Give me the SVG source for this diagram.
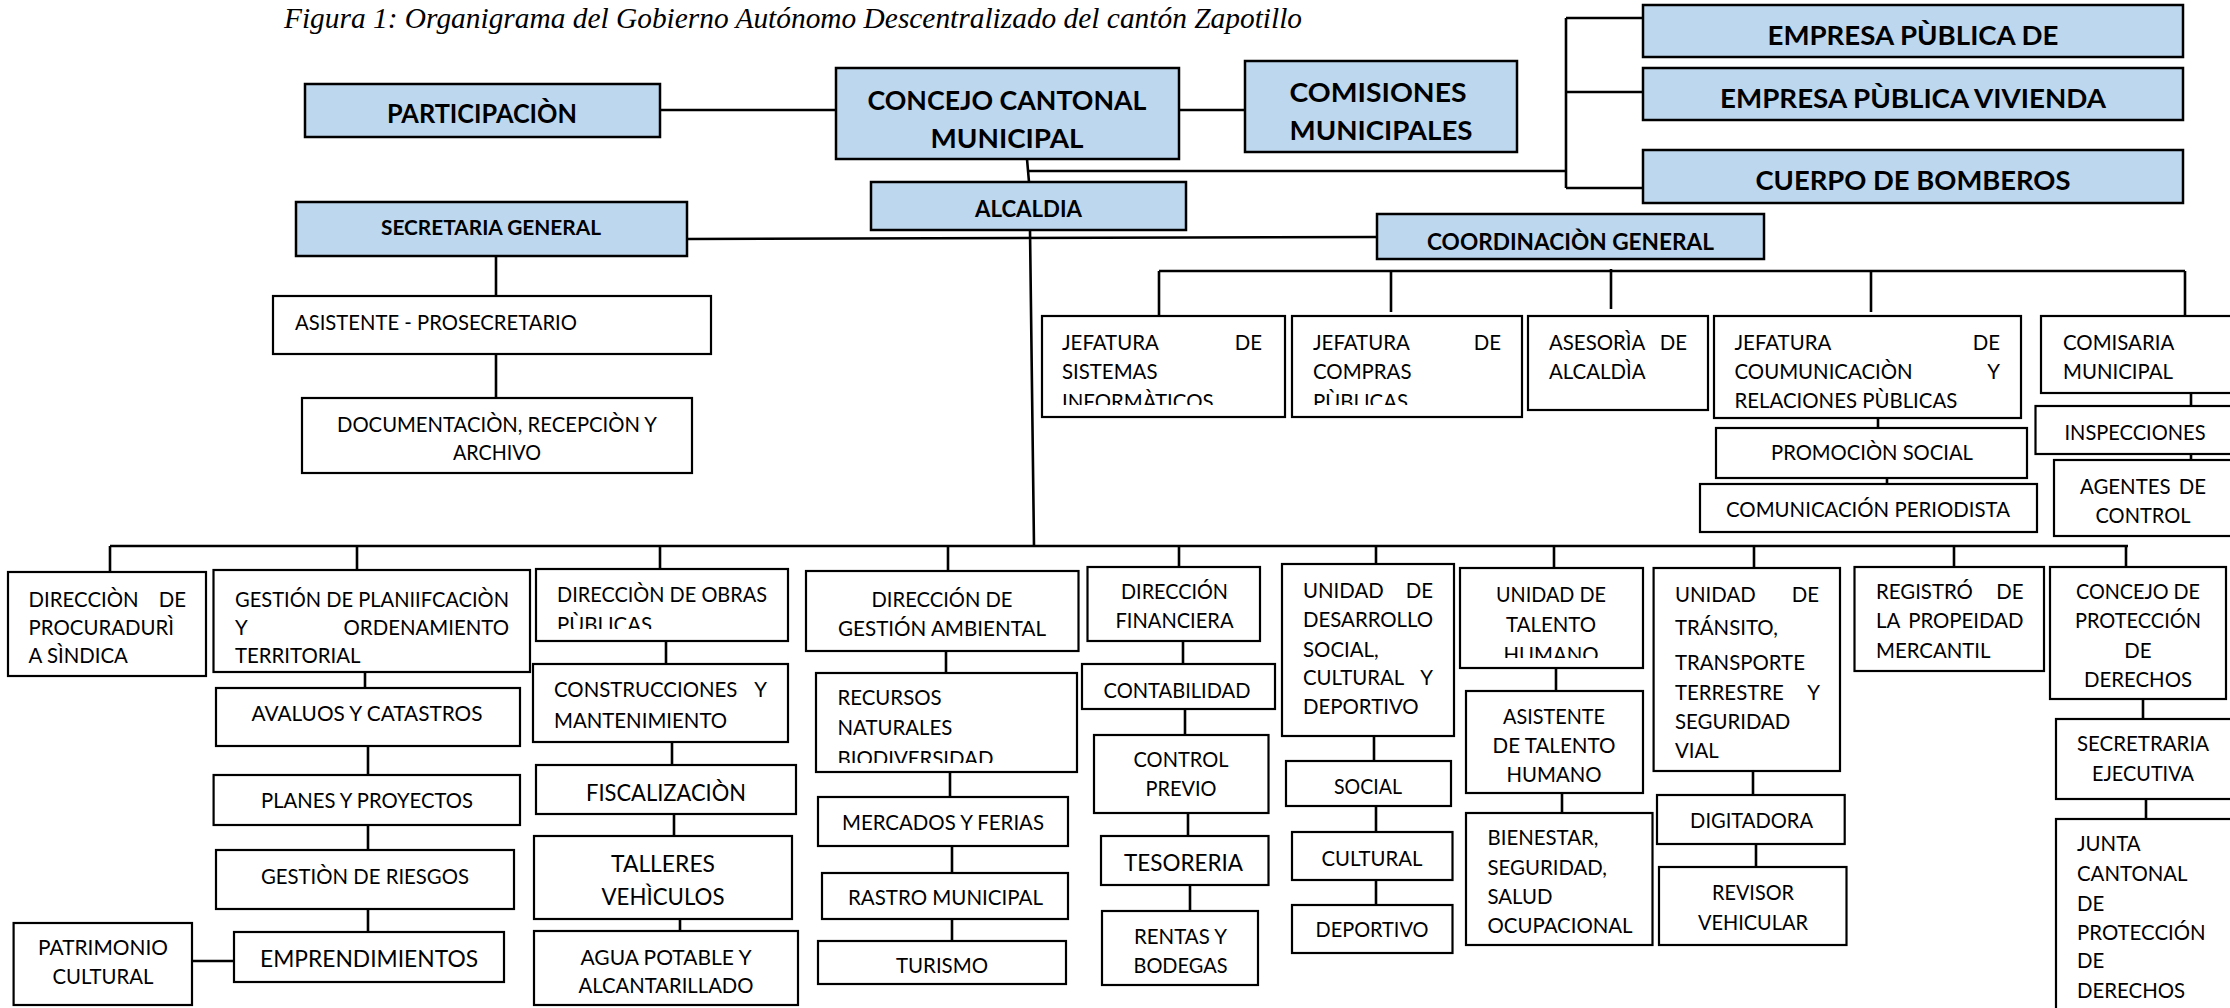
<svg xmlns="http://www.w3.org/2000/svg" width="2230" height="1008" viewBox="0 0 2230 1008">
<style>
.bx{fill:#BDD7EE;stroke:#000;stroke-width:2.5}
.wx{fill:#fff;stroke:#000;stroke-width:2.2}
text{font-family:Lato,"Liberation Sans",sans-serif;font-size:20.4px;fill:#000}
.lg{font-size:22.6px}
.h1{font-weight:bold;font-size:27px}
.h2{font-weight:bold;font-size:22.8px}
.h3{font-weight:bold;font-size:21px}
.c{text-anchor:middle}
.e{text-anchor:end}
.cn{fill:none;stroke:#000;stroke-width:2.6}
.title{font-family:"Liberation Serif",serif;font-style:italic;font-size:29.4px}
</style>
<defs>
<clipPath id="cpJS"><rect x="1042" y="316" width="243" height="89"/></clipPath>
<clipPath id="cpJC"><rect x="1292" y="316" width="230" height="89"/></clipPath>
<clipPath id="cpOB"><rect x="536" y="569" width="252" height="60"/></clipPath>
<clipPath id="cpTH"><rect x="1460" y="568" width="183" height="90"/></clipPath>
<clipPath id="cpRN"><rect x="816" y="673" width="261" height="90"/></clipPath>
</defs>
<rect width="2230" height="1008" fill="#fff"/>
<text class="title" x="284" y="28" textLength="1018" lengthAdjust="spacingAndGlyphs">Figura 1: Organigrama del Gobierno Autónomo Descentralizado del cantón Zapotillo</text>

<g id="connectors">
<path class="cn" d="M660,110 H836 M1179,110 H1245 M1027,159 L1029,182 M1028,171 H1566 M1566,18 V188 M1566,18 H1643 M1566,92 H1643 M1566,188 H1643"/>
<path class="cn" d="M687,239 L1377,237 M1030,230 L1034,546"/>
<path class="cn" d="M1159,271 H2185 M1159,271 V316 M1391,271 V312 M1611,269 V309 M1871,271 V312 M2185,271 V316"/>
<path class="cn" d="M1878,418 V429 M1887,478 V488 M2191,393 V410 M2191,454 V463"/>
<path class="cn" d="M496,256 V296 M496,354 V398"/>
<path class="cn" d="M110,546 H2128 M110,546 V572 M357,546 V570 M660,546 V569 M948,546 V571 M1179,546 V567 M1376,546 V564 M1554,546 V568 M1754,546 V568 M1954,546 V567 M2126,546 V567"/>
<path class="cn" d="M365,672 V688 M368,746 V775 M368,825 V850 M368,909 V932 M192,961 H234"/>
<path class="cn" d="M666,641 V664 M672,742 V765 M674,814 V836 M680,919 V931"/>
<path class="cn" d="M946,651 V673 M950,772 V797 M952,846 V873 M952,914 V941"/>
<path class="cn" d="M1183,641 V664 M1185,709 V735 M1188,813 V836 M1190,885 V911"/>
<path class="cn" d="M1374,736 V761 M1376,806 V832 M1376,880 V905"/>
<path class="cn" d="M1556,668 V691 M1562,793 V813"/>
<path class="cn" d="M1753,771 V795 M1756,844 V867"/>
<path class="cn" d="M2143,699 V719 M2146,799 V819"/>
</g>

<g id="n-participacion"><rect class="bx" x="305" y="84" width="355" height="53"/><text class="h1 c" x="482" y="123" textLength="190" lengthAdjust="spacingAndGlyphs">PARTICIPACIÒN</text></g>
<g id="n-concejo"><rect class="bx" x="836" y="68" width="343" height="91"/><text class="h1 c" x="1007" y="110" textLength="279" lengthAdjust="spacingAndGlyphs">CONCEJO CANTONAL</text><text class="h1 c" x="1007" y="148" textLength="153" lengthAdjust="spacingAndGlyphs">MUNICIPAL</text></g>
<g id="n-comisiones"><rect class="bx" x="1245" y="61" width="272" height="91"/><text class="h1 c" x="1378" y="102" textLength="177" lengthAdjust="spacingAndGlyphs">COMISIONES</text><text class="h1 c" x="1381" y="140" textLength="183" lengthAdjust="spacingAndGlyphs">MUNICIPALES</text></g>
<g id="n-empresa1"><rect class="bx" x="1643" y="5" width="540" height="52"/><text class="h1 c" x="1913" y="45" textLength="291" lengthAdjust="spacingAndGlyphs">EMPRESA PÙBLICA DE</text></g>
<g id="n-empresa2"><rect class="bx" x="1643" y="68" width="540" height="52"/><text class="h1 c" x="1913" y="108" textLength="386" lengthAdjust="spacingAndGlyphs">EMPRESA PÙBLICA VIVIENDA</text></g>
<g id="n-bomberos"><rect class="bx" x="1643" y="150" width="540" height="53"/><text class="h1 c" x="1913" y="190" textLength="315" lengthAdjust="spacingAndGlyphs">CUERPO DE BOMBEROS</text></g>
<g id="n-alcaldia"><rect class="bx" x="871" y="182" width="315" height="48"/><text class="h2 c" x="1028.5" y="217" textLength="107" lengthAdjust="spacingAndGlyphs">ALCALDIA</text></g>
<g id="n-secretaria"><rect class="bx" x="296" y="202" width="391" height="54"/><text class="h3 c" x="491" y="235" textLength="220" lengthAdjust="spacingAndGlyphs">SECRETARIA GENERAL</text></g>
<g id="n-coordinacion"><rect class="bx" x="1377" y="214" width="387" height="45"/><text class="h2 c" x="1570.5" y="250" textLength="287" lengthAdjust="spacingAndGlyphs">COORDINACIÒN GENERAL</text></g>

<g id="n-asistente"><rect class="wx" x="273" y="296" width="438" height="58"/><text x="295" y="330" textLength="282" lengthAdjust="spacingAndGlyphs">ASISTENTE - PROSECRETARIO</text></g>
<g id="n-documentacion"><rect class="wx" x="302" y="398" width="390" height="75"/><text class="c" x="497" y="432" textLength="320" lengthAdjust="spacingAndGlyphs">DOCUMENTACIÒN, RECEPCIÒN Y</text><text class="c" x="497" y="460" textLength="88" lengthAdjust="spacingAndGlyphs">ARCHIVO</text></g>

<g id="n-jsistemas"><rect class="wx" x="1042" y="316" width="243" height="101"/><g clip-path="url(#cpJS)"><text x="1062" y="350">JEFATURA</text><text class="e" x="1262" y="350">DE</text><text x="1062" y="379">SISTEMAS</text><text x="1062" y="409">INFORMÀTICOS</text></g></g>
<g id="n-jcompras"><rect class="wx" x="1292" y="316" width="230" height="101"/><g clip-path="url(#cpJC)"><text x="1313" y="350">JEFATURA</text><text class="e" x="1501" y="350">DE</text><text x="1313" y="379">COMPRAS</text><text x="1313" y="409">PÙBLICAS</text></g></g>
<g id="n-asesoria"><rect class="wx" x="1528" y="316" width="180" height="94"/><text x="1549" y="350">ASESORÌA</text><text class="e" x="1687" y="350">DE</text><text x="1549" y="379">ALCALDÌA</text></g>
<g id="n-jcomunicacion"><rect class="wx" x="1714" y="316" width="307" height="102"/><text x="1734.5" y="350">JEFATURA</text><text class="e" x="2000" y="350">DE</text><text x="1734.5" y="379">COUMUNICACIÒN</text><text class="e" x="2000" y="379">Y</text><text x="1734.5" y="408">RELACIONES PÙBLICAS</text></g>
<g id="n-comisaria"><rect class="wx" x="2041" y="316" width="200" height="77"/><text x="2063" y="350">COMISARIA</text><text x="2063" y="379">MUNICIPAL</text></g>
<g id="n-promocion"><rect class="wx" x="1716" y="428" width="311" height="50"/><text class="c" x="1872" y="460" textLength="202" lengthAdjust="spacingAndGlyphs">PROMOCIÒN SOCIAL</text></g>
<g id="n-comperiodista"><rect class="wx" x="1700" y="484" width="337" height="48"/><text class="c" x="1868" y="517" textLength="284" lengthAdjust="spacingAndGlyphs">COMUNICACIÓN PERIODISTA</text></g>
<g id="n-inspecciones"><rect class="wx" x="2035.5" y="406" width="205" height="48"/><text class="c" x="2135" y="440" textLength="141" lengthAdjust="spacingAndGlyphs">INSPECCIONES</text></g>
<g id="n-agentes"><rect class="wx" x="2054" y="460" width="190" height="76"/><text x="2080" y="494">AGENTES</text><text class="e" x="2206" y="494">DE</text><text class="c" x="2143" y="523" textLength="95" lengthAdjust="spacingAndGlyphs">CONTROL</text></g>

<g id="n-procuraduria"><rect class="wx" x="8" y="572" width="198" height="104"/><text x="28.6" y="607">DIRECCIÒN</text><text class="e" x="186" y="607">DE</text><text x="28.6" y="635">PROCURADURÌ</text><text x="28.6" y="663">A SÌNDICA</text></g>
<g id="n-planificacion"><rect class="wx" x="213.5" y="570" width="316.5" height="102"/><text x="235" y="607" textLength="274" lengthAdjust="spacingAndGlyphs">GESTIÓN DE PLANIIFCACIÒN</text><text x="235" y="635">Y</text><text class="e" x="509" y="635">ORDENAMIENTO</text><text x="235" y="663">TERRITORIAL</text></g>
<g id="n-obras"><rect class="wx" x="536" y="569" width="252" height="72"/><g clip-path="url(#cpOB)"><text x="557" y="602" textLength="210" lengthAdjust="spacingAndGlyphs">DIRECCIÒN DE OBRAS</text><text x="557" y="632">PÙBLICAS</text></g></g>
<g id="n-ambiental"><rect class="wx" x="806" y="571" width="272.5" height="80"/><text class="c" x="942" y="607" textLength="141" lengthAdjust="spacingAndGlyphs">DIRECCIÓN DE</text><text class="c" x="942" y="636" textLength="208" lengthAdjust="spacingAndGlyphs">GESTIÓN AMBIENTAL</text></g>
<g id="n-financiera"><rect class="wx" x="1087.5" y="567" width="172.5" height="74"/><text class="c" x="1174.5" y="599" textLength="107" lengthAdjust="spacingAndGlyphs">DIRECCIÓN</text><text class="c" x="1174.5" y="628" textLength="118" lengthAdjust="spacingAndGlyphs">FINANCIERA</text></g>
<g id="n-desarrollo"><rect class="wx" x="1282" y="564" width="172" height="172"/><text x="1303" y="598">UNIDAD</text><text class="e" x="1433" y="598">DE</text><text x="1303" y="627">DESARROLLO</text><text x="1303" y="657">SOCIAL,</text><text x="1303" y="685">CULTURAL</text><text class="e" x="1433" y="685">Y</text><text x="1303" y="714">DEPORTIVO</text></g>
<g id="n-talento"><rect class="wx" x="1460" y="568" width="183" height="100"/><g clip-path="url(#cpTH)"><text class="c" x="1551" y="602" textLength="110" lengthAdjust="spacingAndGlyphs">UNIDAD DE</text><text class="c" x="1551" y="632">TALENTO</text><text class="c" x="1551" y="662">HUMANO</text></g></g>
<g id="n-transito"><rect class="wx" x="1653.6" y="568" width="186.4" height="203"/><text x="1675" y="602">UNIDAD</text><text class="e" x="1819" y="602">DE</text><text x="1675" y="635">TRÁNSITO,</text><text x="1675" y="670">TRANSPORTE</text><text x="1675" y="700">TERRESTRE</text><text class="e" x="1820" y="700">Y</text><text x="1675" y="729">SEGURIDAD</text><text x="1675" y="758">VIAL</text></g>
<g id="n-registro"><rect class="wx" x="1854.5" y="567" width="189.5" height="104"/><text x="1876" y="599">REGISTRÓ</text><text class="e" x="2023.5" y="599">DE</text><text x="1876" y="628">LA</text><text class="e" x="2023.5" y="628">PROPEIDAD</text><text x="1876" y="658">MERCANTIL</text></g>
<g id="n-cproteccion"><rect class="wx" x="2050" y="567" width="176" height="132"/><text class="c" x="2138" y="599" textLength="124" lengthAdjust="spacingAndGlyphs">CONCEJO DE</text><text class="c" x="2138" y="628" textLength="126" lengthAdjust="spacingAndGlyphs">PROTECCIÓN</text><text class="c" x="2138" y="658">DE</text><text class="c" x="2138" y="687">DERECHOS</text></g>

<g id="n-avaluos"><rect class="wx" x="216" y="688" width="304" height="58"/><text class="c" x="367" y="721" textLength="231" lengthAdjust="spacingAndGlyphs">AVALUOS Y CATASTROS</text></g>
<g id="n-planes"><rect class="wx" x="213.6" y="775" width="306.4" height="50"/><text class="c" x="367" y="808" textLength="212" lengthAdjust="spacingAndGlyphs">PLANES Y PROYECTOS</text></g>
<g id="n-riesgos"><rect class="wx" x="216" y="850" width="298" height="59"/><text class="c" x="365" y="884" textLength="208" lengthAdjust="spacingAndGlyphs">GESTIÒN DE RIESGOS</text></g>
<g id="n-emprendimientos"><rect class="wx" x="234" y="932" width="270" height="50"/><text class="c lg" x="369" y="967" textLength="218" lengthAdjust="spacingAndGlyphs">EMPRENDIMIENTOS</text></g>
<g id="n-patrimonio"><rect class="wx" x="13.6" y="923" width="178.4" height="82"/><text class="c" x="103" y="955" textLength="130" lengthAdjust="spacingAndGlyphs">PATRIMONIO</text><text class="c" x="103" y="984" textLength="101" lengthAdjust="spacingAndGlyphs">CULTURAL</text></g>

<g id="n-construcciones"><rect class="wx" x="533" y="664" width="255" height="78"/><text x="554" y="697">CONSTRUCCIONES</text><text class="e" x="767" y="697">Y</text><text x="554" y="728">MANTENIMIENTO</text></g>
<g id="n-fiscalizacion"><rect class="wx" x="536" y="765" width="260" height="49"/><text class="c lg" x="666" y="801" textLength="160" lengthAdjust="spacingAndGlyphs">FISCALIZACIÒN</text></g>
<g id="n-talleres"><rect class="wx" x="534" y="836" width="258" height="83"/><text class="c lg" x="663" y="872" textLength="104" lengthAdjust="spacingAndGlyphs">TALLERES</text><text class="c lg" x="663" y="905" textLength="123" lengthAdjust="spacingAndGlyphs">VEHÌCULOS</text></g>
<g id="n-agua"><rect class="wx" x="534" y="931" width="264" height="74"/><text class="c" x="666" y="965" textLength="171" lengthAdjust="spacingAndGlyphs">AGUA POTABLE Y</text><text class="c" x="666" y="993" textLength="175" lengthAdjust="spacingAndGlyphs">ALCANTARILLADO</text></g>

<g id="n-recursos"><rect class="wx" x="816" y="673" width="261" height="99"/><g clip-path="url(#cpRN)"><text x="837.5" y="705">RECURSOS</text><text x="837.5" y="735">NATURALES</text><text x="837.5" y="766">BIODIVERSIDAD</text></g></g>
<g id="n-mercados"><rect class="wx" x="818" y="797" width="250" height="49"/><text class="c" x="943" y="830" textLength="202" lengthAdjust="spacingAndGlyphs">MERCADOS Y FERIAS</text></g>
<g id="n-rastro"><rect class="wx" x="822" y="873" width="246" height="46"/><text class="c" x="945.5" y="905" textLength="195" lengthAdjust="spacingAndGlyphs">RASTRO MUNICIPAL</text></g>
<g id="n-turismo"><rect class="wx" x="818" y="941" width="248" height="43"/><text class="c" x="942" y="973" textLength="92" lengthAdjust="spacingAndGlyphs">TURISMO</text></g>

<g id="n-contabilidad"><rect class="wx" x="1082" y="664" width="193" height="45"/><text class="c" x="1177" y="698" textLength="147" lengthAdjust="spacingAndGlyphs">CONTABILIDAD</text></g>
<g id="n-controlprevio"><rect class="wx" x="1094" y="735" width="174.5" height="78"/><text class="c" x="1181" y="767" textLength="95" lengthAdjust="spacingAndGlyphs">CONTROL</text><text class="c" x="1181" y="796" textLength="71" lengthAdjust="spacingAndGlyphs">PREVIO</text></g>
<g id="n-tesoreria"><rect class="wx" x="1101" y="836" width="167.5" height="49"/><text class="c lg" x="1183.5" y="871" textLength="119" lengthAdjust="spacingAndGlyphs">TESORERIA</text></g>
<g id="n-rentas"><rect class="wx" x="1102" y="911" width="156" height="74"/><text class="c" x="1180.5" y="944" textLength="93" lengthAdjust="spacingAndGlyphs">RENTAS Y</text><text class="c" x="1180.5" y="973" textLength="94" lengthAdjust="spacingAndGlyphs">BODEGAS</text></g>

<g id="n-social"><rect class="wx" x="1286" y="761" width="165" height="45"/><text class="c" x="1368" y="794" textLength="68" lengthAdjust="spacingAndGlyphs">SOCIAL</text></g>
<g id="n-cultural"><rect class="wx" x="1292" y="832" width="160.5" height="48"/><text class="c" x="1372" y="866" textLength="101" lengthAdjust="spacingAndGlyphs">CULTURAL</text></g>
<g id="n-deportivo"><rect class="wx" x="1292" y="905" width="160.5" height="48"/><text class="c" x="1372" y="937" textLength="113" lengthAdjust="spacingAndGlyphs">DEPORTIVO</text></g>

<g id="n-asistenteth"><rect class="wx" x="1466" y="691" width="177" height="102"/><text class="c" x="1554" y="724" textLength="102" lengthAdjust="spacingAndGlyphs">ASISTENTE</text><text class="c" x="1554" y="753" textLength="123" lengthAdjust="spacingAndGlyphs">DE TALENTO</text><text class="c" x="1554" y="782" textLength="95" lengthAdjust="spacingAndGlyphs">HUMANO</text></g>
<g id="n-bienestar"><rect class="wx" x="1466" y="813" width="186.5" height="132"/><text x="1487.5" y="845">BIENESTAR,</text><text x="1487.5" y="875">SEGURIDAD,</text><text x="1487.5" y="904">SALUD</text><text x="1487.5" y="933">OCUPACIONAL</text></g>

<g id="n-digitadora"><rect class="wx" x="1657" y="795" width="187.7" height="49"/><text class="c" x="1751.6" y="828" textLength="123" lengthAdjust="spacingAndGlyphs">DIGITADORA</text></g>
<g id="n-revisor"><rect class="wx" x="1659" y="867" width="187.5" height="78"/><text class="c" x="1753" y="900" textLength="82" lengthAdjust="spacingAndGlyphs">REVISOR</text><text class="c" x="1753" y="930" textLength="110" lengthAdjust="spacingAndGlyphs">VEHICULAR</text></g>

<g id="n-secejecutiva"><rect class="wx" x="2056" y="719" width="190" height="80"/><text class="c" x="2143" y="751" textLength="132" lengthAdjust="spacingAndGlyphs">SECRETRARIA</text><text class="c" x="2143" y="781" textLength="102" lengthAdjust="spacingAndGlyphs">EJECUTIVA</text></g>
<g id="n-junta"><rect class="wx" x="2056" y="819" width="190" height="200"/><text x="2077" y="851">JUNTA</text><text x="2077" y="881">CANTONAL</text><text x="2077" y="911">DE</text><text x="2077" y="940">PROTECCIÓN</text><text x="2077" y="968">DE</text><text x="2077" y="998">DERECHOS</text></g>
</svg>
